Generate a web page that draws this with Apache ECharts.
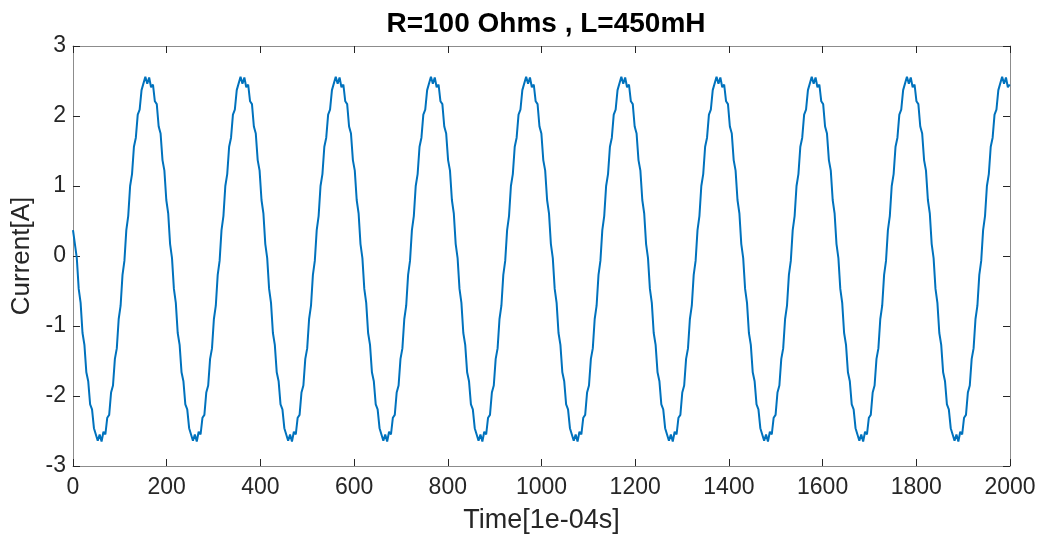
<!DOCTYPE html>
<html>
<head>
<meta charset="utf-8">
<script src="https://cdn.jsdelivr.net/npm/echarts@6/dist/echarts.min.js"></script>
<style>
html,body{margin:0;padding:0;background:#fff;}
#c{width:1048px;height:541px;}
</style>
</head>
<body>
<div id="c"></div>
<script>
// Sample spacing along the time axis (units of 1e-04 s)
const sampleStep = 4.064;
const xTicks = {min: 0, max: 2000, interval: 200};
const yTicks = {min: -3, max: 3, interval: 1};
const titleText = 'R=100 Ohms , L=450mH';
const xName = 'Time[1e-04s]';
const yName = 'Current[A]';
// Current values, one per sample
const current = [
0.37,0.17,-0.03,-0.47,-0.67,-1.10,-1.27,-1.66,-1.79,-2.12,-2.19,-2.46,-2.45,-2.64,-2.55,-2.65,-2.51,-2.55,-2.31,-2.27,-1.95,-1.85,-1.47,-1.32,-0.90,-0.71,-0.27,-0.07,0.37,0.57,1.00,1.17,1.56,1.69,2.02,2.09,2.37,2.35,2.56,2.46,2.55,2.41,2.45,2.21,2.17,1.85,1.75,1.37,1.22,0.80,
0.61,0.17,-0.03,-0.47,-0.67,-1.10,-1.27,-1.66,-1.79,-2.12,-2.19,-2.46,-2.45,-2.64,-2.55,-2.65,-2.51,-2.55,-2.31,-2.27,-1.95,-1.85,-1.47,-1.32,-0.90,-0.71,-0.27,-0.07,0.37,0.57,1.00,1.17,1.56,1.69,2.02,2.09,2.37,2.35,2.56,2.46,2.55,2.41,2.45,2.21,2.17,1.85,1.75,1.37,1.22,0.80,
0.61,0.17,-0.03,-0.47,-0.67,-1.10,-1.27,-1.66,-1.79,-2.12,-2.19,-2.46,-2.45,-2.64,-2.55,-2.65,-2.51,-2.55,-2.31,-2.27,-1.95,-1.85,-1.47,-1.32,-0.90,-0.71,-0.27,-0.07,0.37,0.57,1.00,1.17,1.56,1.69,2.02,2.09,2.37,2.35,2.56,2.46,2.55,2.41,2.45,2.21,2.17,1.85,1.75,1.37,1.22,0.80,
0.61,0.17,-0.03,-0.47,-0.67,-1.10,-1.27,-1.66,-1.79,-2.12,-2.19,-2.46,-2.45,-2.64,-2.55,-2.65,-2.51,-2.55,-2.31,-2.27,-1.95,-1.85,-1.47,-1.32,-0.90,-0.71,-0.27,-0.07,0.37,0.57,1.00,1.17,1.56,1.69,2.02,2.09,2.37,2.35,2.56,2.46,2.55,2.41,2.45,2.21,2.17,1.85,1.75,1.37,1.22,0.80,
0.61,0.17,-0.03,-0.47,-0.67,-1.10,-1.27,-1.66,-1.79,-2.12,-2.19,-2.46,-2.45,-2.64,-2.55,-2.65,-2.51,-2.55,-2.31,-2.27,-1.95,-1.85,-1.47,-1.32,-0.90,-0.71,-0.27,-0.07,0.37,0.57,1.00,1.17,1.56,1.69,2.02,2.09,2.37,2.35,2.56,2.46,2.55,2.41,2.45,2.21,2.17,1.85,1.75,1.37,1.22,0.80,
0.61,0.17,-0.03,-0.47,-0.67,-1.10,-1.27,-1.66,-1.79,-2.12,-2.19,-2.46,-2.45,-2.64,-2.55,-2.65,-2.51,-2.55,-2.31,-2.27,-1.95,-1.85,-1.47,-1.32,-0.90,-0.71,-0.27,-0.07,0.37,0.57,1.00,1.17,1.56,1.69,2.02,2.09,2.37,2.35,2.56,2.46,2.55,2.41,2.45,2.21,2.17,1.85,1.75,1.37,1.22,0.80,
0.61,0.17,-0.03,-0.47,-0.67,-1.10,-1.27,-1.66,-1.79,-2.12,-2.19,-2.46,-2.45,-2.64,-2.55,-2.65,-2.51,-2.55,-2.31,-2.27,-1.95,-1.85,-1.47,-1.32,-0.90,-0.71,-0.27,-0.07,0.37,0.57,1.00,1.17,1.56,1.69,2.02,2.09,2.37,2.35,2.56,2.46,2.55,2.41,2.45,2.21,2.17,1.85,1.75,1.37,1.22,0.80,
0.61,0.17,-0.03,-0.47,-0.67,-1.10,-1.27,-1.66,-1.79,-2.12,-2.19,-2.46,-2.45,-2.64,-2.55,-2.65,-2.51,-2.55,-2.31,-2.27,-1.95,-1.85,-1.47,-1.32,-0.90,-0.71,-0.27,-0.07,0.37,0.57,1.00,1.17,1.56,1.69,2.02,2.09,2.37,2.35,2.56,2.46,2.55,2.41,2.45,2.21,2.17,1.85,1.75,1.37,1.22,0.80,
0.61,0.17,-0.03,-0.47,-0.67,-1.10,-1.27,-1.66,-1.79,-2.12,-2.19,-2.46,-2.45,-2.64,-2.55,-2.65,-2.51,-2.55,-2.31,-2.27,-1.95,-1.85,-1.47,-1.32,-0.90,-0.71,-0.27,-0.07,0.37,0.57,1.00,1.17,1.56,1.69,2.02,2.09,2.37,2.35,2.56,2.46,2.55,2.41,2.45,2.21,2.17,1.85,1.75,1.37,1.22,0.80,
0.61,0.17,-0.03,-0.47,-0.67,-1.10,-1.27,-1.66,-1.79,-2.12,-2.19,-2.46,-2.45,-2.64,-2.55,-2.65,-2.51,-2.55,-2.31,-2.27,-1.95,-1.85,-1.47,-1.32,-0.90,-0.71,-0.27,-0.07,0.37,0.57,1.00,1.17,1.56,1.69,2.02,2.09,2.37,2.35,2.56,2.46,2.55,2.41,2.45
];

const seriesData = current.map((v, i) => [i * sampleStep, v]);

const font = 'Liberation Sans, Arial, Helvetica, sans-serif';
const lineCol = '#8c8c8c';
const tickCol = '#262626';

const chart = echarts.init(document.getElementById('c'), null, {renderer: 'canvas'});
const baseX = {
  type: 'value', min: xTicks.min, max: xTicks.max, interval: xTicks.interval,
  axisLine: {show: true, onZero: false, lineStyle: {color: lineCol, width: 1}},
  axisTick: {show: true, inside: true, length: 7, lineStyle: {color: tickCol, width: 1}},
  splitLine: {show: false}
};
const baseY = {
  type: 'value', min: yTicks.min, max: yTicks.max, interval: yTicks.interval,
  axisLine: {show: true, onZero: false, lineStyle: {color: lineCol, width: 1}},
  axisTick: {show: true, inside: true, length: 7, lineStyle: {color: tickCol, width: 1}},
  splitLine: {show: false}
};
chart.setOption({
  animation: false,
  backgroundColor: '#ffffff',
  title: {
    text: titleText, left: 541, top: 5, textAlign: 'center',
    textStyle: {fontFamily: font, fontSize: 28, fontWeight: 'bold', color: '#000'}
  },
  grid: {left: 73, right: 38, top: 46, bottom: 75, containLabel: false},
  xAxis: [
    Object.assign({}, baseX, {
      position: 'bottom',
      name: xName, nameLocation: 'middle', nameGap: 41,
      nameTextStyle: {fontFamily: font, fontSize: 27, color: '#262626'},
      axisLabel: {show: true, margin: 10, fontFamily: font, fontSize: 23, color: '#262626',
        formatter: v => String(v)}
    }),
    Object.assign({}, baseX, {position: 'top', axisLabel: {show: false}})
  ],
  yAxis: [
    Object.assign({}, baseY, {
      position: 'left',
      name: yName, nameLocation: 'middle', nameGap: 30,
      nameTextStyle: {fontFamily: font, fontSize: 26, color: '#262626'},
      axisLabel: {show: true, margin: 7, fontFamily: font, fontSize: 23, color: '#262626'}
    }),
    Object.assign({}, baseY, {position: 'right', axisLabel: {show: false}})
  ],
  series: [{
    type: 'line', xAxisIndex: 0, yAxisIndex: 0,
    data: seriesData, showSymbol: false, symbol: 'none',
    lineStyle: {color: '#0072BD', width: 2},
    z: 3
  }]
});
</script>
</body>
</html>
